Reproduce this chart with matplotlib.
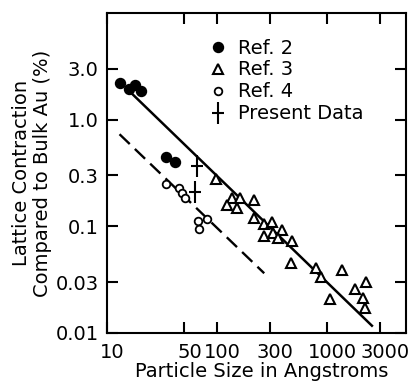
import matplotlib
matplotlib.use('Agg')
import matplotlib.pyplot as plt
import matplotlib.transforms as mtransforms
from matplotlib.path import Path
from matplotlib.lines import Line2D
from matplotlib.ticker import FixedLocator, FixedFormatter, NullLocator

# Data
ref2_size = [13.0, 15.8, 17.8, 20.2, 34.1, 41.5]
ref2_contr = [2.19, 1.94, 2.11, 1.87, 0.446, 0.403]

ref3_size = [98.7, 138, 161.5, 215, 123, 151, 218, 268, 313, 386, 268, 324,
             361, 484, 471, 796, 883, 1368, 2240, 1778, 1067, 2111, 2193]
ref3_contr = [0.275, 0.185, 0.185, 0.175, 0.158, 0.149, 0.120, 0.105, 0.110,
              0.093, 0.0805, 0.0865, 0.0776, 0.0733, 0.0451, 0.0405, 0.0335,
              0.0391, 0.0303, 0.0257, 0.0208, 0.0211, 0.0170]

ref4_size = [34.6, 45.1, 48.5, 50.8, 66.8, 67.9, 81.3]
ref4_contr = [0.250, 0.230, 0.205, 0.184, 0.113, 0.095, 0.116]

present_size = [66.2, 63.1]
present_contr = [0.367, 0.210]

# fitted lines (end points)
solid_fit_x = [16.4, 2550]
solid_fit_y = [1.80, 0.0117]
dashed_fit_x = [13.0, 268]
dashed_fit_y = [0.730, 0.0363]

xticks = [10, 50, 100, 300, 1000, 3000]
xticklabels = ['10', '50', '100', '300', '1000', '3000']
yticks = [0.01, 0.03, 0.1, 0.3, 1.0, 3.0]
yticklabels = ['0.01', '0.03', '0.1', '0.3', '1.0', '3.0']

plt.rcParams['font.family'] = 'DejaVu Sans'
plt.rcParams['font.size'] = 14

# cross marker, taller than wide
cross = Path([(0, -1), (0, 1), (-0.55, 0), (0.55, 0)],
             [Path.MOVETO, Path.LINETO, Path.MOVETO, Path.LINETO])

fig = plt.figure(figsize=(4.15, 3.85), dpi=100)
ax = fig.add_axes([0.2578, 0.1351, 0.7205, 0.8312])
ax.set_xscale('log')
ax.set_yscale('log')
ax.set_xlim(10, 5200)
ax.set_ylim(0.01, 10)

ax.plot(solid_fit_x, solid_fit_y, color='black', lw=1.8)
ax.plot(dashed_fit_x, dashed_fit_y, color='black', lw=1.7, dashes=(6, 3))

ax.plot(ref2_size, ref2_contr, 'o', color='black', ms=7.2, ls='none')
ax.plot(ref3_size, ref3_contr, '^', mfc='white', mec='black', mew=1.5, ms=7, ls='none')
ax.plot(ref4_size, ref4_contr, 'o', mfc='white', mec='black', mew=1.3, ms=5.5, ls='none')
ax.plot(present_size, present_contr, marker=cross, mfc='none', mec='black', mew=1.5,
        ms=16, ls='none')

handles = [
    Line2D([], [], marker='o', color='black', ms=7.2, ls='none'),
    Line2D([], [], marker='^', mfc='white', mec='black', mew=1.5, ms=7, ls='none'),
    Line2D([], [], marker='o', mfc='white', mec='black', mew=1.3, ms=5.5, ls='none'),
    Line2D([], [], marker=cross, mfc='none', mec='black', mew=1.5, ms=16, ls='none'),
]
ax.legend(handles, ['Ref. 2', 'Ref. 3', 'Ref. 4', 'Present Data'],
          loc='upper left', bbox_to_anchor=(0.338, 0.92), frameon=False,
          borderpad=0, borderaxespad=0, handlelength=1.0, handletextpad=0.55,
          labelspacing=0.15)

# ticks on all four sides, pointing in
ax.xaxis.set_major_locator(FixedLocator(xticks))
ax.xaxis.set_major_formatter(FixedFormatter(xticklabels))
ax.yaxis.set_major_locator(FixedLocator(yticks))
ax.yaxis.set_major_formatter(FixedFormatter(yticklabels))
ax.xaxis.set_minor_locator(NullLocator())
ax.yaxis.set_minor_locator(NullLocator())
ax.tick_params(which='major', direction='in', length=8, width=1.5,
               top=True, right=True, labelsize=14)
ax.tick_params(axis='y', pad=6)
ax.tick_params(axis='x', pad=7)
for sp in ax.spines.values():
    sp.set_linewidth(1.5)

# labels sit a little right of their ticks in the original
shift = mtransforms.ScaledTranslation(4 / 72, 0, fig.dpi_scale_trans)
for lab in ax.get_xticklabels():
    lab.set_transform(lab.get_transform() + shift)

ax.set_xlabel('Particle Size in Angstroms')
ax.xaxis.set_label_coords(0.517, -0.092)
ax.set_ylabel('Lattice Contraction\nCompared to Bulk Au (%)', va='center',
              linespacing=1.1)
ax.yaxis.set_label_coords(-0.25, 0.5)

fig.savefig('out.png', dpi=100, facecolor='white')
